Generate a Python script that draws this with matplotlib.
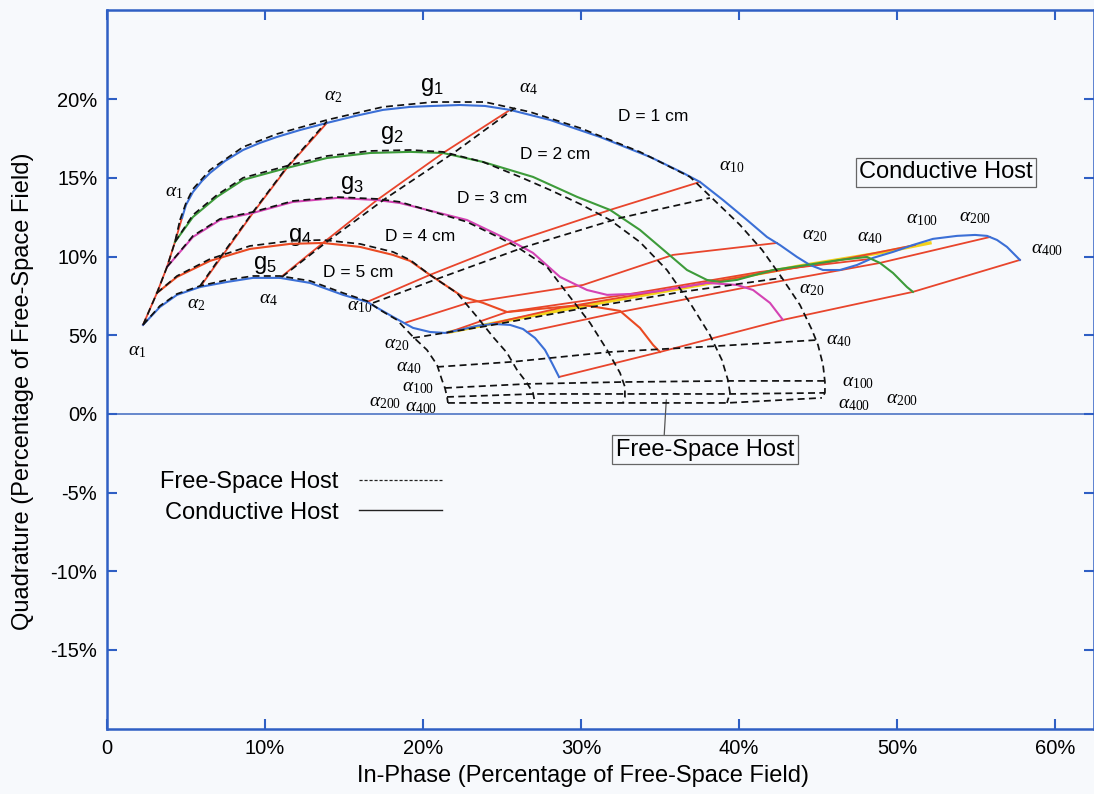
import numpy as np
import matplotlib
matplotlib.use("Agg")
import matplotlib.pyplot as plt
from matplotlib.lines import Line2D
from matplotlib import font_manager

plt.rcParams['font.family'] = ['Liberation Sans', 'DejaVu Sans']
plt.rcParams['mathtext.fontset'] = 'custom'
plt.rcParams['mathtext.rm'] = 'Liberation Serif'
plt.rcParams['mathtext.it'] = 'Liberation Serif:italic'
plt.rcParams['mathtext.sf'] = 'Liberation Sans'

# conductive host curves, (in-phase %, quadrature %)
g1_cond = np.array([(4.75,12.46),(5.00,13.29),(5.44,14.11),(6.01,14.81),(6.52,15.32),(7.47,16.08),(8.61,16.78),
    (9.68,17.23),(10.76,17.61),(12.22,18.05),(13.92,18.50),(15.70,18.94),(17.47,19.33),(19.18,19.52),(20.63,19.58),
    (22.34,19.64),(23.92,19.58),(25.51,19.33),(28.04,18.69),(31.20,17.61),(34.37,16.34),(36.46,15.32),(37.53,14.75),
    (38.99,13.60),(40.51,12.33),(41.77,11.25),(42.59,10.74),(43.67,9.98),(44.49,9.47),(45.32,9.15),(46.39,9.15),
    (47.47,9.47),(48.48,9.92),(49.75,10.30),(51.01,10.74),(52.28,11.13),(53.80,11.32),(54.94,11.38),(55.70,11.32),
    (56.33,11.06),(56.96,10.62),(57.78,9.79)])
g2_cond = np.array([(4.30,10.93),(5.44,12.52),(6.96,13.80),(8.61,14.88),(11.39,15.64),(13.92,16.27),(16.65,16.59),
    (19.18,16.66),(21.27,16.59),(23.80,16.02),(26.96,15.07),(29.75,13.80),(31.84,12.97),(33.73,11.70),(35.44,10.24),
    (36.71,9.15),(37.97,8.52),(38.80,8.39),(39.87,8.52),(42.15,9.15),(44.30,9.47),(46.39,9.79),(48.10,9.98),
    (48.92,9.60),(49.75,8.96),(50.63,8.07),(51.01,7.76)])
g3_cond = np.array([(3.80,9.35),(5.44,11.25),(7.15,12.33),(9.24,12.78),(11.77,13.48),(14.56,13.73),(17.09,13.60),
    (18.54,13.41),(22.78,12.33),(25.70,10.93),(26.96,10.24),(28.67,8.71),(30.38,7.88),(31.65,7.57),(33.29,7.63),
    (35.00,7.82),(37.97,8.33),(39.87,8.20),(40.89,7.88),(41.96,7.06),(42.78,5.98)])
g4_cond = np.array([(3.16,7.69),(4.43,8.71),(6.52,9.73),(9.05,10.49),(11.58,10.81),(13.67,10.87),(16.01,10.62),
    (18.10,10.11),(19.18,9.73),(20.44,8.84),(22.53,7.44),(23.80,7.06),(25.32,6.48),(27.41,6.68),(30.13,6.93),
    (32.47,6.55),(33.73,5.47),(34.56,4.39),(35.00,3.94)])
g5_cond = np.array([(2.28,5.66),(3.35,6.80),(4.43,7.57),(5.89,8.07),(7.59,8.39),(9.24,8.65),(10.95,8.65),
    (12.85,8.33),(14.94,7.57),(16.46,7.12),(18.10,6.17),(19.37,5.47),(20.44,5.21),(21.39,5.15),(22.34,5.34),
    (23.42,5.60),(24.43,5.72),(25.51,5.66),(26.33,5.40),(27.09,4.83),(27.72,4.07),(28.16,3.24),(28.61,2.35)])

# free-space host curves
g1_free = np.array([(4.62,12.33),(5.00,13.41),(5.44,14.30),(6.52,15.51),(8.61,16.97),(10.76,17.80),(13.92,18.69),
    (17.47,19.52),(20.63,19.83),(23.92,19.83),(26.77,19.20),(29.94,18.18),(33.73,16.66),(36.90,15.07),(38.29,13.73),
    (40.06,12.02),(41.46,10.43),(42.72,8.65),(43.86,6.93),(44.62,5.34),(45.00,4.39),(45.32,3.12),(45.44,2.03),
    (45.44,1.34),(45.25,1.02)])
g2_free = np.array([(4.30,10.93),(5.44,12.65),(6.96,13.92),(8.61,15.01),(11.39,15.77),(13.92,16.40),(16.65,16.72),
    (19.18,16.78),(21.27,16.66),(23.80,16.02),(26.14,15.07),(28.04,14.24),(29.94,13.35),(31.84,12.33),(33.73,10.93),
    (35.44,9.15),(36.90,7.06),(38.16,5.02),(38.92,3.43),(39.30,2.16),(39.43,1.34),(39.24,0.70)])
g3_free = np.array([(3.80,9.35),(5.44,11.32),(7.15,12.40),(9.24,12.84),(11.77,13.54),(14.56,13.79),(17.09,13.67),
    (18.54,13.48),(22.78,12.21),(24.87,11.19),(25.95,10.62),(27.85,9.35),(29.30,7.44),(30.57,5.79),(31.65,4.07),
    (32.47,2.61),(32.78,1.72),(32.78,1.08),(32.66,0.70)])
g4_free = np.array([(3.16,7.69),(4.43,8.77),(6.52,9.85),(9.05,10.68),(11.58,11.00),(13.67,11.06),(16.01,10.81),
    (18.10,10.30),(19.18,9.79),(20.44,8.84),(22.15,7.69),(23.42,6.17),(24.43,4.90),(25.32,3.88),(25.95,2.80),
    (26.58,1.97),(26.96,1.34),(27.09,0.70)])
g5_free = np.array([(2.28,5.66),(3.35,6.87),(4.43,7.63),(5.89,8.14),(7.59,8.52),(9.24,8.77),(10.95,8.77),
    (12.85,8.46),(14.94,7.69),(16.46,7.18),(17.28,6.61),(18.35,5.98),(19.37,4.90),(20.25,4.07),(20.89,3.12),
    (21.20,2.16),(21.39,1.65),(21.52,1.08),(21.58,0.70)])

# constant-alpha lines, points on g5 .. g1
alpha_cond = {
    1: [(2.28,5.66),(3.16,7.69),(3.80,9.35),(4.30,10.93),(4.75,12.46)],
    2: [(5.89,8.07),(7.34,10.11),(9.24,12.78),(11.39,15.64),(13.92,18.50)],
    4: [(10.95,8.65),(13.67,10.87),(17.09,13.60),(21.27,16.59),(25.51,19.33)],
    10: [(16.46,7.12),(20.44,8.84),(25.70,10.93),(31.84,12.97),(37.53,14.75)],
    20: [(18.86,5.79),(22.85,7.06),(30.13,8.20),(35.82,10.11),(42.41,10.87)],
    40: [(21.52,5.15),(25.32,6.48),(32.78,7.57),(41.33,9.03),(48.29,9.85)],
    100: [(24.24,5.72),(28.67,6.74),(37.53,8.26),(45.76,9.66),(51.14,10.74)],
    200: [(26.58,5.21),(32.47,6.48),(40.57,8.07),(48.92,9.60),(55.89,11.25)],
    400: [(28.61,2.35),(35.00,3.94),(42.78,5.98),(51.01,7.76),(57.78,9.79)],
}
alpha_free = {
    1: [(2.28,5.66),(3.16,7.69),(3.80,9.35),(4.30,10.93),(4.62,12.33)],
    2: [(5.89,8.14),(7.34,10.20),(9.24,12.84),(11.39,15.70),(13.92,18.60)],
    4: [(11.08,8.71),(13.99,11.00),(17.59,13.67),(22.03,16.66),(25.82,19.45)],
    10: [(16.84,7.06),(21.08,8.65),(26.46,10.62),(32.47,12.46),(38.16,13.73)],
    20: [(19.37,4.83),(24.05,5.59),(29.94,6.68),(36.39,7.76),(42.72,8.65)],
    40: [(20.89,2.99),(25.63,3.31),(31.84,3.94),(38.67,4.32),(44.94,4.70)],
    100: [(21.39,1.65),(26.65,1.91),(32.66,2.03),(39.37,2.10),(45.44,2.10)],
    200: [(21.52,1.08),(27.03,1.27),(32.78,1.27),(39.43,1.27),(45.44,1.34)],
    400: [(21.58,0.70),(27.09,0.70),(32.66,0.70),(39.24,0.70),(45.25,1.02)],
}
# shared high-alpha track (yellow)
common_track = np.array([(21.71,5.21),(26.14,6.10),(31.20,7.06),(37.53,8.20),(43.86,9.41),(48.92,10.24),(52.09,10.87)])

curve_names = ['g1', 'g2', 'g3', 'g4', 'g5']
curve_colors = ['#3b6fd6', '#3d9b3a', '#d444b4', '#ea4a22', '#3b6fd6']
diam_labels = ['D = 1 cm', 'D = 2 cm', 'D = 3 cm', 'D = 4 cm', 'D = 5 cm']
diam_pos = [(34.56,18.88), (28.35,16.47), (24.37,13.67), (19.81,11.25), (15.89,8.96)]
g_pos = [(20.57,20.79), (18.04,17.74), (15.51,14.56), (12.22,11.25), (10.0,9.47)]
alpha_text = [('1',4.25,14.10),('2',14.30,20.15),('4',26.65,20.72),('10',39.56,15.70),('20',44.81,11.32),
    ('40',48.29,11.19),('100',51.58,12.33),('200',54.94,12.52),('400',59.49,10.43),
    ('1',1.90,3.94),('2',5.63,6.93),('4',10.19,7.25),('10',16.01,6.80),('20',18.35,4.39),('40',19.10,2.95),
    ('100',19.68,1.65),('200',17.59,0.75),('400',19.87,0.42),
    ('20',44.62,7.88),('40',46.33,4.70),('100',47.53,2.00),('400',47.28,0.62),('200',50.32,0.90)]

xticks = [0, 10, 20, 30, 40, 50, 60]
xticklabels = ['0', '10%', '20%', '30%', '40%', '50%', '60%']
yticks = [-15, -10, -5, 0, 5, 10, 15, 20]
yticklabels = ['-15%', '-10%', '-5%', '0%', '5%', '10%', '15%', '20%']

bg = '#f7f9fc'
axblue = '#2f5fc4'
red = '#e8452c'
dash = (0, (4, 2.5))

fig = plt.figure(figsize=(10.94, 7.94), dpi=100, facecolor=bg)
ax = fig.add_axes([107/1094, 65/794, 987/1094, 719/794], facecolor=bg)
ax.set_xlim(0, 62.47)
ax.set_ylim(-20.03, 25.68)

ax.axhline(0, color='#4d74c4', lw=1.2, zorder=1)

ax.plot(common_track[:, 0], common_track[:, 1], color='#f2d21c', lw=2.4, zorder=2)
for a, pts in alpha_cond.items():
    pts = np.array(pts)
    ax.plot(pts[:, 0], pts[:, 1], color=red, lw=1.3, zorder=3)
for arr, col in zip([g1_cond, g2_cond, g3_cond, g4_cond, g5_cond], curve_colors):
    ax.plot(arr[:, 0], arr[:, 1], color=col, lw=1.5, zorder=4)
for arr in [g1_free, g2_free, g3_free, g4_free, g5_free]:
    ax.plot(arr[:, 0], arr[:, 1], color='#111111', lw=1.25, ls=dash, zorder=5)
for a, pts in alpha_free.items():
    pts = np.array(pts)
    ax.plot(pts[:, 0], pts[:, 1], color='#111111', lw=1.25, ls=dash, zorder=5)

# labels
for name, (x, y) in zip(curve_names, g_pos):
    ax.text(x, y, r'g$_{\mathsf{%s}}$' % name[1], fontsize=17, ha='center', va='center')
for lab, (x, y) in zip(diam_labels, diam_pos):
    ax.text(x, y, lab, fontsize=12.5, ha='center', va='center')
for sub, x, y in alpha_text:
    ax.text(x, y, r'$\alpha_{\mathrm{%s}}$' % sub, fontsize=14, ha='center', va='center')

ax.text(53.10, 15.35, 'Conductive Host', fontsize=17, ha='center', va='center',
        bbox=dict(boxstyle='square,pad=0.15', fc='none', ec='#666666', lw=0.9))
ax.annotate('Free-Space Host', xy=(35.4, 0.9), xytext=(37.85, -2.29), fontsize=17, ha='center', va='center',
            bbox=dict(boxstyle='square,pad=0.15', fc='none', ec='#666666', lw=0.9),
            arrowprops=dict(arrowstyle='-', color='#555555', lw=0.9, relpos=(0.27, 1.0), shrinkA=0, shrinkB=0))

handles = [Line2D([], [], color='#222222', lw=0.9, ls=(0, (2.5, 1.5))),
           Line2D([], [], color='#222222', lw=1.0)]
ax.legend(handles, ['Free-Space Host', 'Conductive Host'], loc='upper left', bbox_to_anchor=(2.0, -2.3),
          bbox_transform=ax.transData, frameon=False, markerfirst=False, fontsize=17,
          handlelength=3.5, handletextpad=0.9, labelspacing=0.35)

# axes styling
names = {f.name for f in font_manager.fontManager.ttflist}
tickfont = 'Liberation Sans Narrow' if 'Liberation Sans Narrow' in names else 'Liberation Sans'
ticksize = 16 if tickfont.endswith('Narrow') else 14.5
ax.set_xticks(xticks)
ax.set_xticklabels(xticklabels, fontsize=ticksize, family=[tickfont, 'DejaVu Sans'])
ax.set_yticks(yticks)
ax.set_yticklabels(yticklabels, fontsize=ticksize, family=[tickfont, 'DejaVu Sans'])
ax.tick_params(direction='in', length=7, width=1.5, color=axblue, top=True, right=True, pad=7)
for s in ax.spines.values():
    s.set_color(axblue)
    s.set_linewidth(1.8)

ax.set_xlabel('In-Phase (Percentage of Free-Space Field)', fontsize=17)
ax.set_ylabel('Quadrature (Percentage of Free-Space Field)', fontsize=17)
ax.xaxis.set_label_coords(0.482, -0.05)
ax.yaxis.set_label_coords(-0.074, 0.47)

fig.savefig('out.png', dpi=100, facecolor=bg)
